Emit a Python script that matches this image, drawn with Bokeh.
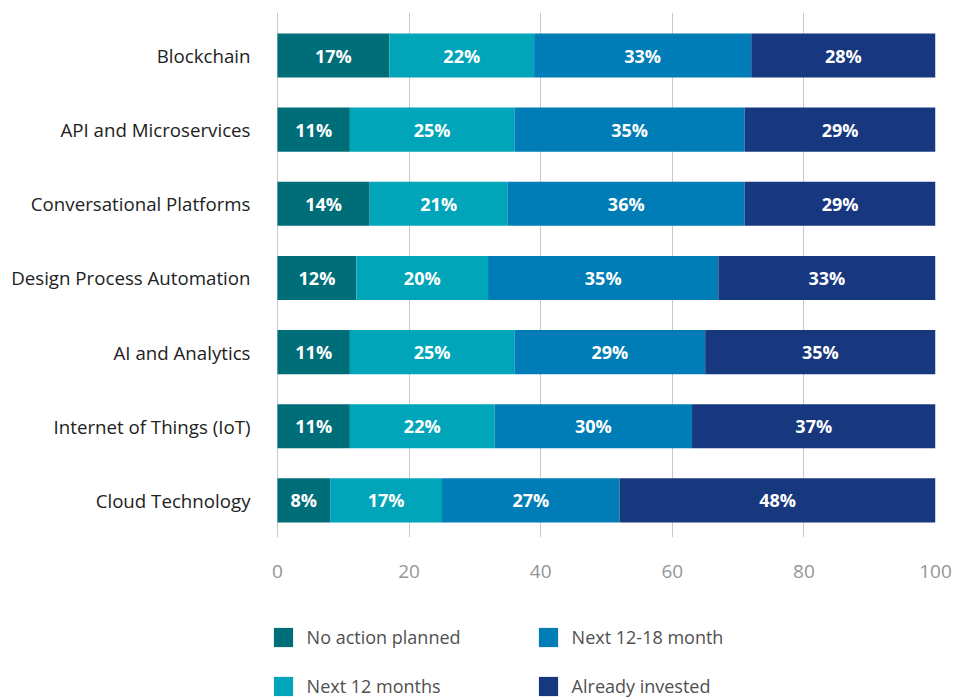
import numpy as np
from bokeh.plotting import figure
from bokeh.layouts import column
from bokeh.models import ColumnDataSource, Range1d, FixedTicker, Legend, LegendItem
from bokeh.core.properties import value
from bokeh.embed import file_html
from bokeh.resources import INLINE

categories = ["Blockchain", "API and Microservices", "Conversational Platforms",
              "Design Process Automation", "AI and Analytics",
              "Internet of Things (IoT)", "Cloud Technology"]
no_action = [17, 11, 14, 12, 11, 11, 8]
next_12 = [22, 25, 21, 20, 25, 22, 17]
next_12_18 = [33, 35, 36, 35, 29, 30, 27]
already = [28, 29, 29, 33, 35, 37, 48]
series_names = ["No action planned", "Next 12 months", "Next 12-18 month", "Already invested"]
series_colors = ["#006E78", "#00A5B9", "#007DB6", "#17377F"]
x_ticks = [0, 20, 40, 60, 80, 100]

FONT = "Open Sans"
n = len(categories)
ypos = np.arange(n)[::-1].astype(float)  # Blockchain on top

p = figure(width=957, height=600, output_backend="svg", toolbar_location=None,
           x_range=Range1d(-1.064, 100), y_range=Range1d(-0.5, n - 1 + 0.58),
           min_border_left=270, min_border_right=22, min_border_top=12,
           min_border_bottom=63)
p.outline_line_color = None
p.background_fill_color = "white"

# legend strip below the chart (its frame is aligned with the chart's frame)
lg = figure(width=957, height=100, output_backend="svg", toolbar_location=None,
            x_axis_location=None, y_axis_location=None,
            min_border_left=0, min_border_right=0, min_border_top=0, min_border_bottom=0)
lg.outline_line_color = None
lg.xgrid.grid_line_color = None
lg.ygrid.grid_line_color = None

series = [no_action, next_12, next_12_18, already]
left = np.zeros(n)
rd = {}
for vals, name, col in zip(series, series_names, series_colors):
    v = np.array(vals, dtype=float)
    src = ColumnDataSource(dict(y=ypos, left=left, right=left + v,
                                mid=left + v / 2, lab=[f"{int(x)}%" for x in v]))
    p.hbar(y="y", left="left", right="right", height=0.595, source=src,
           fill_color=col, line_color=None)
    p.text(x="mid", y="y", text="lab", source=src, text_color="white",
           text_font=value(FONT), text_font_style="bold", text_font_size="18px",
           text_align="center", text_baseline="middle")
    rd[name] = lg.hbar(y="y", left="left", right="right", height=0.5, source=src,
                       fill_color=col, line_color=None, visible=False)
    left = left + v

# axes
p.xaxis.ticker = FixedTicker(ticks=x_ticks)
p.xaxis.axis_line_color = None
p.xaxis.major_tick_line_color = None
p.xaxis.minor_tick_line_color = None
p.xaxis.major_tick_out = 0
p.xaxis.major_label_standoff = 27
p.xaxis.major_label_text_font = FONT
p.xaxis.major_label_text_font_size = "19px"
p.xaxis.major_label_text_color = "#959595"

p.yaxis.ticker = FixedTicker(ticks=list(ypos))
p.yaxis.major_label_overrides = {float(y): c for y, c in zip(ypos, categories)}
p.yaxis.axis_line_color = None
p.yaxis.major_tick_line_color = None
p.yaxis.minor_tick_line_color = None
p.yaxis.major_tick_out = 0
p.yaxis.major_label_standoff = 20
p.yaxis.major_label_text_font = FONT
p.yaxis.major_label_text_font_size = "18.7px"
p.yaxis.major_label_text_color = "#222222"

p.xgrid.grid_line_color = "#c8c8c8"
p.xgrid.ticker = FixedTicker(ticks=x_ticks)
p.ygrid.grid_line_color = None

order = ["No action planned", "Next 12-18 month", "Next 12 months", "Already invested"]
legend = Legend(items=[LegendItem(label=nm, renderers=[rd[nm]]) for nm in order],
                ncols=2, location=(0.6, 2), orientation="horizontal",
                glyph_width=24, glyph_height=24, label_standoff=12,
                label_width=204, label_height=24, spacing=25,
                label_text_font=FONT, label_text_font_size="18px",
                label_text_color="#505050", border_line_color=None,
                background_fill_alpha=0, inactive_fill_alpha=0,
                padding=0, margin=0)
lg.add_layout(legend, "center")

layout = column(p, lg, spacing=0)
open("out.html", "w").write(file_html(layout, INLINE))
